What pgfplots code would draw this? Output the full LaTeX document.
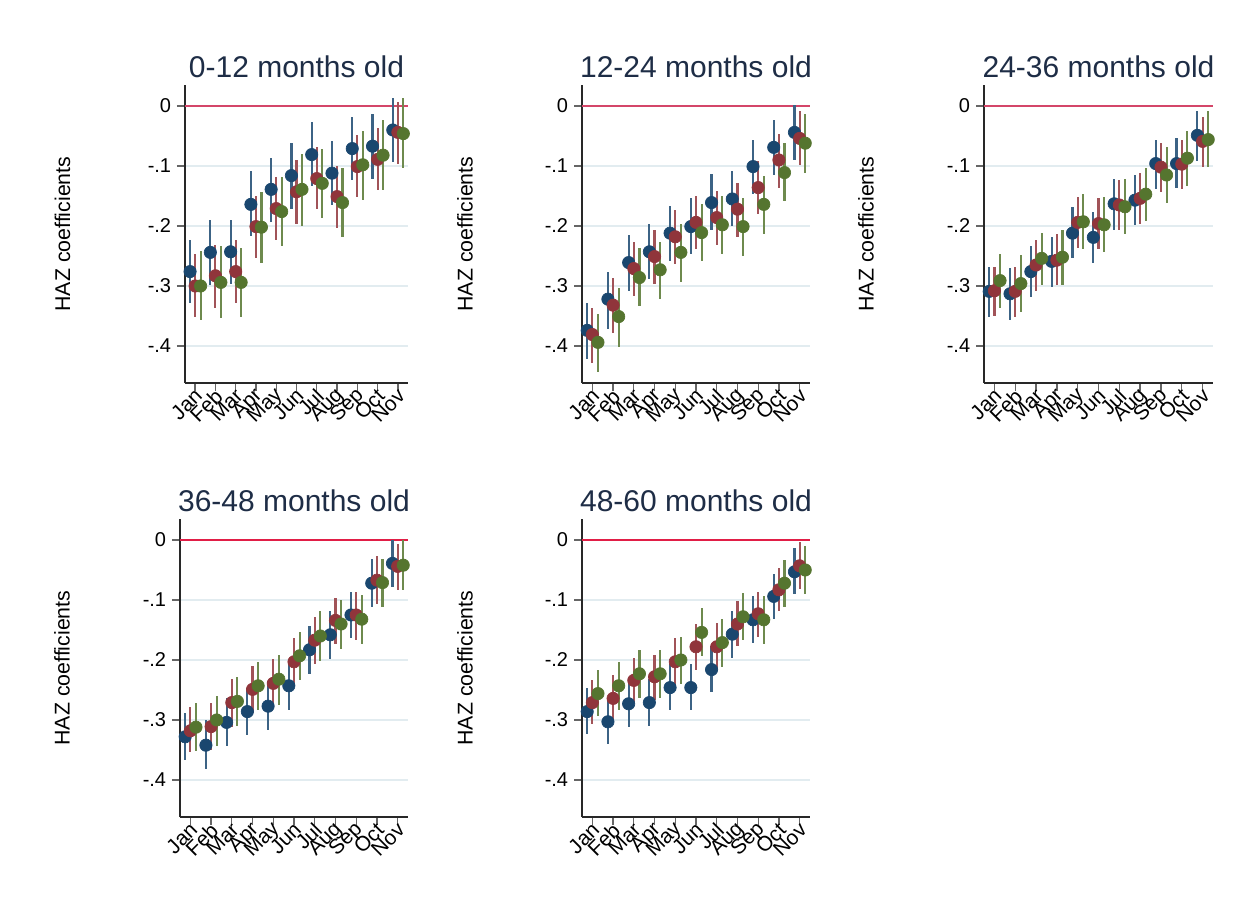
\documentclass[border=0pt]{standalone}
\usepackage{fontspec}
\setmainfont{Liberation Sans}
\usepackage{pgfplots}
\usepackage{pgfplotstable}
\pgfplotsset{compat=1.18}

\definecolor{cblue}{RGB}{26,71,111}
\definecolor{cred}{RGB}{144,53,59}
\definecolor{cgreen}{RGB}{85,117,47}
\definecolor{zerotop}{RGB}{212,70,105}
\definecolor{zerobot}{RGB}{225,30,70}
\definecolor{gridcol}{RGB}{226,236,240}
\definecolor{titlecol}{RGB}{30,45,70}
\definecolor{axcol}{RGB}{40,40,40}

% m: month; b/r/g: point estimate, low, high of each series
\pgfplotstableread{
m by bl bh ry rl rh gy gl gh
1 -0.276 -0.329 -0.223 -0.300 -0.351 -0.247 -0.300 -0.356 -0.241
2 -0.244 -0.298 -0.190 -0.283 -0.337 -0.231 -0.294 -0.354 -0.234
3 -0.243 -0.296 -0.190 -0.276 -0.328 -0.223 -0.294 -0.352 -0.236
4 -0.164 -0.217 -0.109 -0.201 -0.254 -0.150 -0.202 -0.261 -0.144
5 -0.139 -0.193 -0.086 -0.171 -0.223 -0.119 -0.176 -0.234 -0.119
6 -0.116 -0.171 -0.061 -0.143 -0.196 -0.090 -0.139 -0.200 -0.080
7 -0.081 -0.134 -0.027 -0.121 -0.172 -0.068 -0.129 -0.187 -0.072
8 -0.112 -0.165 -0.059 -0.151 -0.204 -0.100 -0.161 -0.218 -0.104
9 -0.071 -0.123 -0.018 -0.101 -0.152 -0.049 -0.098 -0.156 -0.041
10 -0.067 -0.121 -0.014 -0.089 -0.140 -0.037 -0.082 -0.140 -0.024
11 -0.040 -0.093 0.013 -0.044 -0.097 0.006 -0.046 -0.104 0.013
}\tabA
\pgfplotstableread{
m by bl bh ry rl rh gy gl gh
1 -0.374 -0.421 -0.329 -0.381 -0.428 -0.337 -0.394 -0.443 -0.347
2 -0.322 -0.371 -0.276 -0.332 -0.379 -0.287 -0.351 -0.401 -0.304
3 -0.261 -0.309 -0.215 -0.271 -0.317 -0.226 -0.286 -0.333 -0.236
4 -0.243 -0.289 -0.196 -0.251 -0.297 -0.207 -0.273 -0.321 -0.226
5 -0.212 -0.259 -0.166 -0.218 -0.263 -0.173 -0.244 -0.293 -0.197
6 -0.201 -0.247 -0.154 -0.194 -0.239 -0.150 -0.211 -0.259 -0.163
7 -0.161 -0.206 -0.113 -0.186 -0.232 -0.141 -0.198 -0.247 -0.150
8 -0.155 -0.200 -0.109 -0.172 -0.218 -0.129 -0.201 -0.250 -0.154
9 -0.101 -0.147 -0.056 -0.136 -0.180 -0.091 -0.164 -0.213 -0.117
10 -0.069 -0.115 -0.024 -0.090 -0.136 -0.046 -0.111 -0.159 -0.062
11 -0.044 -0.090 0.002 -0.054 -0.098 -0.009 -0.062 -0.112 -0.013
}\tabB
\pgfplotstableread{
m by bl bh ry rl rh gy gl gh
1 -0.309 -0.352 -0.268 -0.308 -0.350 -0.268 -0.291 -0.337 -0.246
2 -0.313 -0.357 -0.270 -0.309 -0.351 -0.268 -0.296 -0.343 -0.249
3 -0.276 -0.318 -0.233 -0.265 -0.308 -0.223 -0.254 -0.298 -0.211
4 -0.259 -0.302 -0.218 -0.257 -0.298 -0.214 -0.252 -0.298 -0.207
5 -0.212 -0.254 -0.169 -0.194 -0.237 -0.152 -0.193 -0.238 -0.147
6 -0.219 -0.261 -0.176 -0.196 -0.238 -0.154 -0.198 -0.244 -0.152
7 -0.163 -0.206 -0.121 -0.165 -0.207 -0.123 -0.168 -0.213 -0.122
8 -0.157 -0.198 -0.115 -0.154 -0.196 -0.112 -0.147 -0.192 -0.103
9 -0.096 -0.139 -0.056 -0.102 -0.144 -0.061 -0.115 -0.161 -0.069
10 -0.096 -0.137 -0.054 -0.097 -0.139 -0.056 -0.087 -0.133 -0.041
11 -0.049 -0.092 -0.008 -0.059 -0.101 -0.019 -0.056 -0.101 -0.009
}\tabC
\pgfplotstableread{
m by bl bh ry rl rh gy gl gh
1 -0.328 -0.366 -0.288 -0.318 -0.354 -0.279 -0.312 -0.351 -0.271
2 -0.342 -0.382 -0.300 -0.311 -0.350 -0.272 -0.300 -0.343 -0.260
3 -0.304 -0.344 -0.264 -0.271 -0.311 -0.231 -0.269 -0.310 -0.228
4 -0.286 -0.325 -0.246 -0.249 -0.289 -0.210 -0.243 -0.284 -0.203
5 -0.277 -0.317 -0.236 -0.239 -0.279 -0.199 -0.232 -0.275 -0.192
6 -0.243 -0.283 -0.203 -0.203 -0.242 -0.164 -0.193 -0.234 -0.153
7 -0.183 -0.223 -0.144 -0.167 -0.207 -0.128 -0.160 -0.201 -0.119
8 -0.158 -0.199 -0.118 -0.134 -0.173 -0.096 -0.140 -0.181 -0.100
9 -0.125 -0.164 -0.086 -0.125 -0.166 -0.086 -0.132 -0.173 -0.092
10 -0.072 -0.112 -0.032 -0.067 -0.106 -0.027 -0.071 -0.112 -0.031
11 -0.039 -0.078 0.000 -0.044 -0.083 -0.006 -0.042 -0.083 0.000
}\tabD
\pgfplotstableread{
m by bl bh ry rl rh gy gl gh
1 -0.286 -0.323 -0.247 -0.271 -0.307 -0.233 -0.256 -0.294 -0.217
2 -0.303 -0.340 -0.261 -0.264 -0.303 -0.225 -0.243 -0.284 -0.204
3 -0.273 -0.312 -0.233 -0.234 -0.272 -0.196 -0.223 -0.264 -0.184
4 -0.271 -0.310 -0.232 -0.228 -0.267 -0.192 -0.223 -0.264 -0.184
5 -0.246 -0.283 -0.207 -0.203 -0.242 -0.164 -0.200 -0.240 -0.161
6 -0.246 -0.284 -0.207 -0.178 -0.216 -0.140 -0.154 -0.194 -0.114
7 -0.216 -0.254 -0.177 -0.178 -0.216 -0.139 -0.171 -0.211 -0.131
8 -0.157 -0.196 -0.118 -0.140 -0.177 -0.101 -0.128 -0.167 -0.088
9 -0.133 -0.171 -0.093 -0.123 -0.162 -0.086 -0.133 -0.173 -0.093
10 -0.094 -0.132 -0.056 -0.083 -0.119 -0.046 -0.072 -0.112 -0.034
11 -0.053 -0.090 -0.014 -0.043 -0.081 -0.004 -0.050 -0.090 -0.010
}\tabE

\pgfplotsset{
  hazstyle/.style={
    scale only axis, height=178.9pt,
    xmin=0.5, xmax=11.5, ymin=-0.462, ymax=0.035,
    axis x line=bottom, axis y line=left,
    axis line style={-, line width=1.1pt, color=axcol},
    xtick={1,2,3,4,5,6,7,8,9,10,11},
    xticklabels={Jan,Feb,Mar,Apr,May,Jun,Jul,Aug,Sep,Oct,Nov},
    ytick={0,-0.1,-0.2,-0.3,-0.4},
    yticklabels={0,-.1,-.2,-.3,-.4},
    tick align=outside, major tick length=4.8pt,
    tick style={line width=0.8pt, color=black!60},
    ymajorgrids, grid style={gridcol, line width=0.8pt},
    xticklabel style={rotate=45, anchor=east, inner sep=0.5pt, xshift=1.5pt, yshift=-2pt,
      font=\fontsize{12.5}{14}\selectfont, color=black},
    yticklabel style={font=\fontsize{12}{14}\selectfont, color=black},
    title style={font=\fontsize{18}{20}\selectfont, color=titlecol,
      at={(0.5,1)}, anchor=base, yshift=-1.3pt},
    anchor=south west,
  }
}

\newcommand{\hazseries}[6]{%
  \addplot[only marks, mark=*, mark size=3.7pt, color=#5,
    mark options={draw=#5, fill=#5},
    error bars/.cd, y dir=both, y explicit, error mark=none,
    error bar style={line width=1.3pt, color=#5!85!white}]
    table[x expr=\thisrow{m}#6, y=#2,
      y error plus expr=\thisrow{#4}-\thisrow{#2},
      y error minus expr=\thisrow{#2}-\thisrow{#3}] {#1};}

\newcommand{\hazpanel}[5]{%
  \begin{axis}[hazstyle, at={#1}, width=#2, title={#4}]
    \addplot[#5] coordinates {(0.5,0) (11.5,0)};
    \hazseries{#3}{by}{bl}{bh}{cblue}{-0.25}
    \hazseries{#3}{ry}{rl}{rh}{cred}{+0}
    \hazseries{#3}{gy}{gl}{gh}{cgreen}{+0.27}
  \end{axis}}

\begin{document}
\begin{tikzpicture}
  \fill[white] (0,0) rectangle (749.4pt,-546pt);
  \path[use as bounding box] (0,0) rectangle (749.4pt,-546pt);

  \hazpanel{(111pt,-229.9pt)}{133.8pt}{\tabA}{0-12 months old}{zerotop, line width=1.6pt}
  \hazpanel{(349.2pt,-229.9pt)}{136.8pt}{\tabB}{12-24 months old}{zerotop, line width=1.6pt}
  \hazpanel{(590.4pt,-229.9pt)}{137.4pt}{\tabC}{24-36 months old}{zerotop, line width=1.6pt}
  \hazpanel{(108pt,-490.3pt)}{136.8pt}{\tabD}{36-48 months old}{zerobot, line width=1.1pt}
  \hazpanel{(349.2pt,-490.3pt)}{136.8pt}{\tabE}{48-60 months old}{zerobot, line width=1.1pt}

  \begin{scope}[every node/.style={rotate=90, font=\fontsize{12.8}{14}\selectfont, color=black}]
    \node at (37.5pt,-140.4pt) {HAZ coefficients};
    \node at (279pt,-140.4pt) {HAZ coefficients};
    \node at (519.6pt,-140.4pt) {HAZ coefficients};
    \node at (37.2pt,-400.8pt) {HAZ coefficients};
    \node at (279pt,-400.8pt) {HAZ coefficients};
  \end{scope}
\end{tikzpicture}
\end{document}
